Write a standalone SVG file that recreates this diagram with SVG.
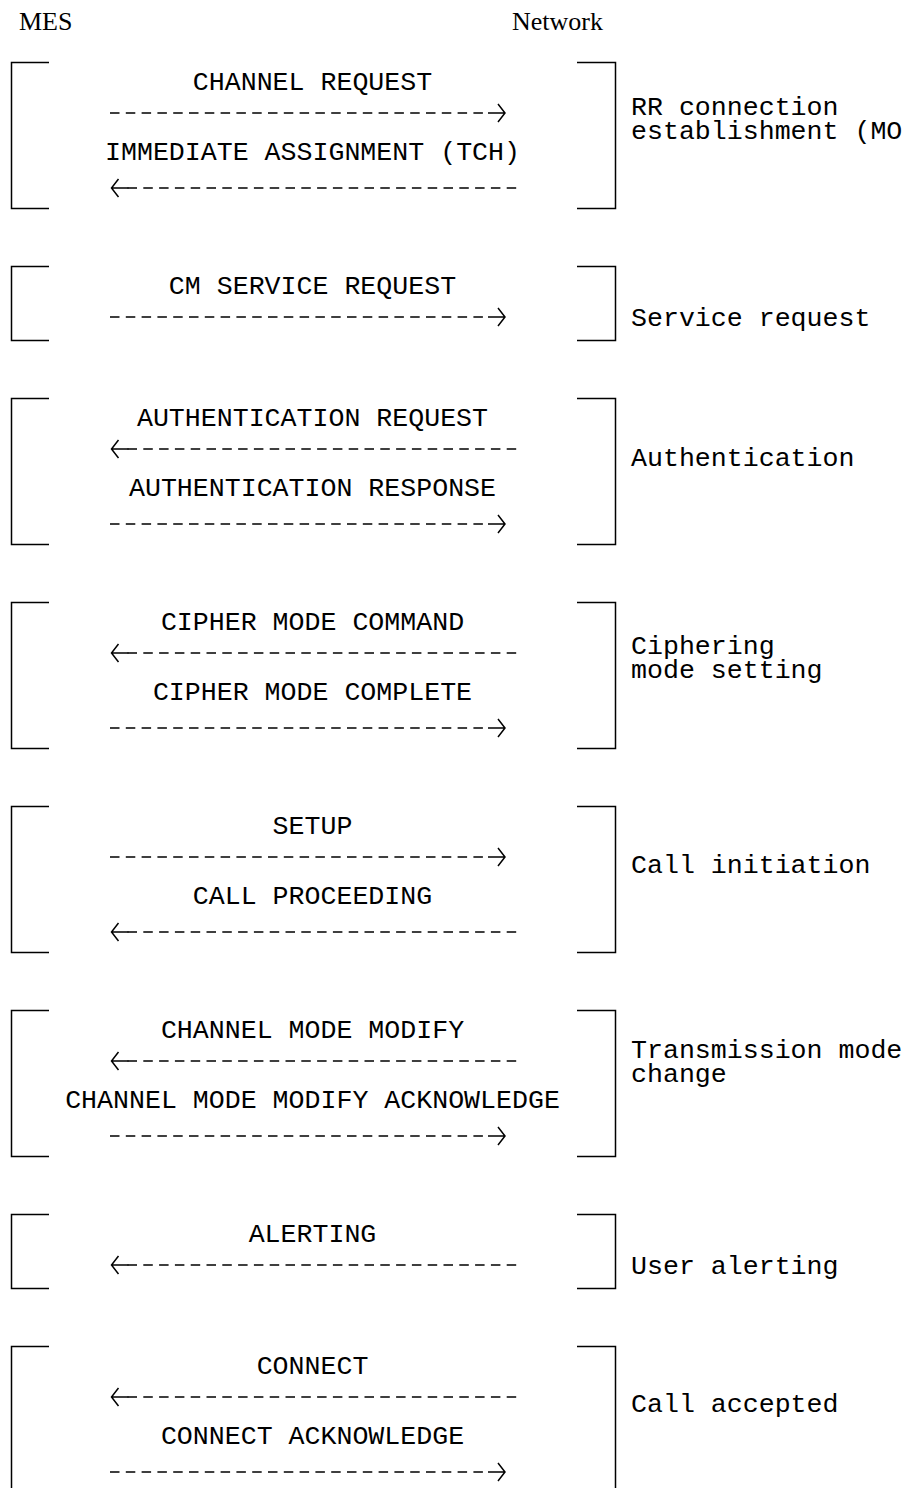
<svg xmlns="http://www.w3.org/2000/svg" width="906" height="1488" viewBox="0 0 906 1488">
  <style>
    .hdr { font-family: "Liberation Serif", "Times New Roman", serif; font-size: 26px; fill: #000; }
    .msg { font-family: "Liberation Mono", "Courier New", monospace; font-size: 26.6px; fill: #000; text-anchor: middle; }
    .lbl { font-family: "Liberation Mono", "Courier New", monospace; font-size: 26.6px; fill: #000; }
    .brk { fill: none; stroke: #000; stroke-width: 1.5; }
    .dash { stroke: #000; stroke-width: 1.4; stroke-dasharray: 9.5 6.3; }
    .head { fill: none; stroke: #000; stroke-width: 1.5; }
  </style>
  <defs>
    <!-- open arrowheads with a short solid shaft, tip at the origin -->
    <path id="headR" class="head" d="M-17,0 H0 M-7,-9 L0,0 L-7,9"/>
    <path id="headL" class="head" d="M17,0 H0 M7,-9 L0,0 L7,9"/>
  </defs>

  <!-- column headings -->
  <g id="headings">
    <text class="hdr" x="19" y="30">MES</text>
    <text class="hdr" x="512" y="30">Network</text>
  </g>

  <!-- brackets grouping each procedure -->
  <g id="brackets">
    <path class="brk" d="M49,62.5 H11.5 V208.5 H49 M577,62.5 H615.5 V208.5 H577"/>
    <path class="brk" d="M49,266.5 H11.5 V340.5 H49 M577,266.5 H615.5 V340.5 H577"/>
    <path class="brk" d="M49,398.5 H11.5 V544.5 H49 M577,398.5 H615.5 V544.5 H577"/>
    <path class="brk" d="M49,602.5 H11.5 V748.5 H49 M577,602.5 H615.5 V748.5 H577"/>
    <path class="brk" d="M49,806.5 H11.5 V952.5 H49 M577,806.5 H615.5 V952.5 H577"/>
    <path class="brk" d="M49,1010.5 H11.5 V1156.5 H49 M577,1010.5 H615.5 V1156.5 H577"/>
    <path class="brk" d="M49,1214.5 H11.5 V1288.5 H49 M577,1214.5 H615.5 V1288.5 H577"/>
    <path class="brk" d="M49,1346.5 H11.5 V1492.5 H49 M577,1346.5 H615.5 V1492.5 H577"/>
  </g>

  <!-- dashed message arrows: MES to Network (right) and Network to MES (left) -->
  <g id="connectors">
    <line class="dash" x1="110" y1="113" x2="483" y2="113"/><use href="#headR" x="505" y="113"/>
    <line class="dash" x1="127.5" y1="188" x2="517" y2="188"/><use href="#headL" x="111.5" y="188"/>

    <line class="dash" x1="110" y1="317" x2="483" y2="317"/><use href="#headR" x="505" y="317"/>

    <line class="dash" x1="127.5" y1="449" x2="517" y2="449"/><use href="#headL" x="111.5" y="449"/>
    <line class="dash" x1="110" y1="524" x2="483" y2="524"/><use href="#headR" x="505" y="524"/>

    <line class="dash" x1="127.5" y1="653" x2="517" y2="653"/><use href="#headL" x="111.5" y="653"/>
    <line class="dash" x1="110" y1="728" x2="483" y2="728"/><use href="#headR" x="505" y="728"/>

    <line class="dash" x1="110" y1="857" x2="483" y2="857"/><use href="#headR" x="505" y="857"/>
    <line class="dash" x1="127.5" y1="932" x2="517" y2="932"/><use href="#headL" x="111.5" y="932"/>

    <line class="dash" x1="127.5" y1="1061" x2="517" y2="1061"/><use href="#headL" x="111.5" y="1061"/>
    <line class="dash" x1="110" y1="1136" x2="483" y2="1136"/><use href="#headR" x="505" y="1136"/>

    <line class="dash" x1="127.5" y1="1265" x2="517" y2="1265"/><use href="#headL" x="111.5" y="1265"/>

    <line class="dash" x1="127.5" y1="1397" x2="517" y2="1397"/><use href="#headL" x="111.5" y="1397"/>
    <line class="dash" x1="110" y1="1472" x2="483" y2="1472"/><use href="#headR" x="505" y="1472"/>
  </g>

  <g id="rr-connection">
    <text class="msg" x="312.5" y="90">CHANNEL REQUEST</text>
    <text class="msg" x="312.5" y="160">IMMEDIATE ASSIGNMENT (TCH)</text>
    <text class="lbl" x="631" y="115">RR connection<tspan x="631" dy="24">establishment (MO</tspan></text>
  </g>

  <g id="service-request">
    <text class="msg" x="312.5" y="294">CM SERVICE REQUEST</text>
    <text class="lbl" x="631" y="326">Service request</text>
  </g>

  <g id="authentication">
    <text class="msg" x="312.5" y="426">AUTHENTICATION REQUEST</text>
    <text class="msg" x="312.5" y="496">AUTHENTICATION RESPONSE</text>
    <text class="lbl" x="631" y="466">Authentication</text>
  </g>

  <g id="ciphering">
    <text class="msg" x="312.5" y="630">CIPHER MODE COMMAND</text>
    <text class="msg" x="312.5" y="700">CIPHER MODE COMPLETE</text>
    <text class="lbl" x="631" y="654">Ciphering<tspan x="631" dy="24">mode setting</tspan></text>
  </g>

  <g id="call-initiation">
    <text class="msg" x="312.5" y="834">SETUP</text>
    <text class="msg" x="312.5" y="904">CALL PROCEEDING</text>
    <text class="lbl" x="631" y="873">Call initiation</text>
  </g>

  <g id="mode-change">
    <text class="msg" x="312.5" y="1038">CHANNEL MODE MODIFY</text>
    <text class="msg" x="312.5" y="1108">CHANNEL MODE MODIFY ACKNOWLEDGE</text>
    <text class="lbl" x="631" y="1058">Transmission mode<tspan x="631" dy="24">change</tspan></text>
  </g>

  <g id="user-alerting">
    <text class="msg" x="312.5" y="1242">ALERTING</text>
    <text class="lbl" x="631" y="1274">User alerting</text>
  </g>

  <g id="call-accepted">
    <text class="msg" x="312.5" y="1374">CONNECT</text>
    <text class="msg" x="312.5" y="1444">CONNECT ACKNOWLEDGE</text>
    <text class="lbl" x="631" y="1412">Call accepted</text>
  </g>
</svg>
